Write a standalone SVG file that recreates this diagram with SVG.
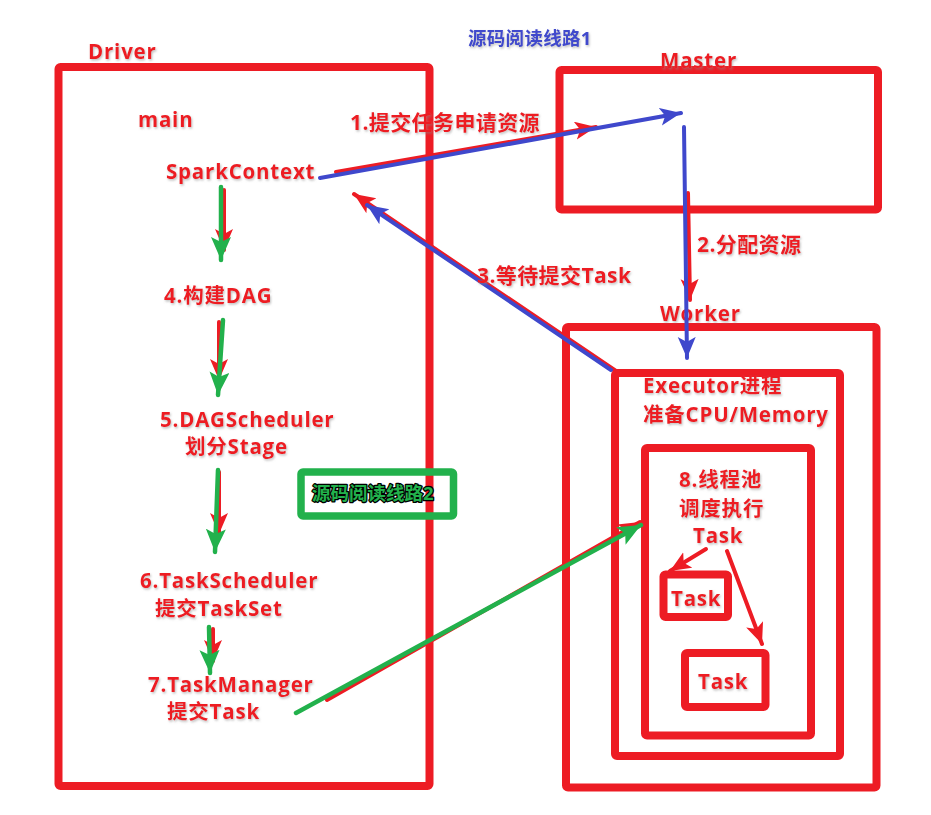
<svg xmlns="http://www.w3.org/2000/svg" width="931" height="815" viewBox="0 0 931 815">
<style>
.box{fill:none;stroke:#ed1c24;stroke-width:8;stroke-linejoin:round}
.t{font-family:"Open Sans","Noto Sans CJK SC",sans-serif;font-weight:700;fill:#ed1c24;filter:url(#sh);letter-spacing:0.8px}
.f20{font-size:20.5px}
.f21{font-size:21px;letter-spacing:0.4px}
.blue{stroke:#3f48cc;stroke-width:4;fill:none;stroke-linecap:round}
.red{stroke:#ed1c24;stroke-width:4;fill:none;stroke-linecap:round}
.green{stroke:#22b14c;stroke-width:4.5;fill:none;stroke-linecap:round}
</style>
<defs>
<filter id="sh" x="-10%" y="-20%" width="120%" height="150%">
<feDropShadow dx="1" dy="1.5" stdDeviation="0.8" flood-color="#888" flood-opacity="0.55"/>
</filter>
<marker id="hb" markerUnits="userSpaceOnUse" markerWidth="24" markerHeight="20" refX="21" refY="9" orient="auto">
<path d="M0,0 L21,9 L0,18 L5,9 z" fill="#3f48cc"/>
</marker>
<marker id="hr" markerUnits="userSpaceOnUse" markerWidth="24" markerHeight="20" refX="21" refY="9" orient="auto">
<path d="M0,0 L21,9 L0,18 L5,9 z" fill="#ed1c24"/>
</marker>
<marker id="hg" markerUnits="userSpaceOnUse" markerWidth="26" markerHeight="22" refX="23" refY="10" orient="auto">
<path d="M0,0 L23,10 L0,20 L5,10 z" fill="#22b14c"/>
</marker>
</defs>
<rect width="931" height="815" fill="#fff"/>

<g id="driver">
<rect class="box" x="58.5" y="67" width="371" height="719" rx="2"/>
<text class="t f20" x="88" y="59">Driver</text>
<text class="t f20" x="138" y="127">main</text>
</g>
<g id="sparkcontext"><text class="t f20" x="166" y="179">SparkContext</text></g>
<g id="dag"><text class="t f20" x="164" y="303">4.构建DAG</text></g>
<g id="dagscheduler">
<text class="t f20" x="160" y="427">5.DAGScheduler</text>
<text class="t f20" x="185" y="454">划分Stage</text>
</g>
<g id="taskscheduler">
<text class="t f20" x="140" y="588">6.TaskScheduler</text>
<text class="t f20" x="155" y="616">提交TaskSet</text>
</g>
<g id="taskmanager">
<text class="t f20" x="148" y="692">7.TaskManager</text>
<text class="t f20" x="167" y="719">提交Task</text>
</g>
<g id="route1"><text class="t" x="468" y="45" style="font-size:18.5px;fill:#3f48cc;letter-spacing:0.3px">源码阅读线路1</text></g>
<g id="route2">
<rect x="301" y="472" width="152.5" height="44" rx="2" fill="none" stroke="#22b14c" stroke-width="7.5"/>
<text x="312" y="500" style="font-family:'Open Sans','Noto Sans CJK SC',sans-serif;font-weight:700;font-size:18.5px;fill:#22b14c;stroke:#000;stroke-width:2.5;paint-order:stroke;stroke-linejoin:round">源码阅读线路2</text>
</g>
<g id="master">
<rect class="box" x="559.5" y="70" width="318.5" height="139.5" rx="2"/>
<text class="t f20" x="660" y="68">Master</text>
</g>
<g id="worker">
<rect class="box" x="566" y="327" width="310.5" height="460.5" rx="2"/>
<text class="t f20" x="660" y="321">Worker</text>
</g>
<g id="executor">
<rect class="box" x="615" y="373" width="225" height="383" rx="2"/>
<text class="t f20" x="643" y="393">Executor进程</text>
<text class="t f20" x="643" y="422">准备CPU/Memory</text>
</g>
<g id="threadpool">
<rect class="box" x="645" y="448" width="166" height="287.5" rx="2"/>
<text class="t f20" x="679" y="487">8.线程池</text>
<text class="t f20" x="679" y="516">调度执行</text>
<text class="t f20" x="693" y="543">Task</text>
</g>
<g id="task1">
<rect class="box" x="663.5" y="574.5" width="64.5" height="42.5" rx="2"/>
<text class="t f20" x="671" y="606">Task</text>
</g>
<g id="task2">
<rect class="box" x="685" y="653" width="80.5" height="54" rx="2"/>
<text class="t f20" x="698" y="689">Task</text>
</g>

<g id="connectors">
<line class="red" x1="336" y1="172" x2="596" y2="127" marker-end="url(#hr)"/>
<line class="blue" x1="320" y1="178" x2="681" y2="113" marker-end="url(#hb)"/>
<text class="t f21" x="350" y="130">1.提交任务申请资源</text>
<line class="red" x1="688" y1="193" x2="690" y2="300" marker-end="url(#hr)"/>
<line class="blue" x1="684" y1="127" x2="687" y2="358" marker-end="url(#hb)"/>
<text class="t f21" x="697" y="252">2.分配资源</text>
<line class="red" x1="616" y1="371" x2="354" y2="194" marker-end="url(#hr)"/>
<line class="blue" x1="611" y1="370" x2="367" y2="205" marker-end="url(#hb)"/>
<text class="t f21" x="477" y="283">3.等待提交Task</text>
<line class="red" x1="224" y1="190" x2="224" y2="250" marker-end="url(#hr)"/>
<line class="green" x1="221" y1="187" x2="221" y2="260" marker-end="url(#hg)"/>
<line class="red" x1="219" y1="322" x2="219" y2="380" marker-end="url(#hr)"/>
<line class="green" x1="223" y1="320" x2="218" y2="395" marker-end="url(#hg)"/>
<line class="red" x1="219" y1="472" x2="219" y2="534" marker-end="url(#hr)"/>
<line class="green" x1="218" y1="470" x2="215" y2="552" marker-end="url(#hg)"/>
<line class="red" x1="213" y1="629" x2="213" y2="661" marker-end="url(#hr)"/>
<line class="green" x1="209" y1="627" x2="210" y2="673" marker-end="url(#hg)"/>
<line class="red" x1="327" y1="700" x2="640" y2="522" marker-end="url(#hr)"/>
<line class="green" x1="296" y1="713" x2="641" y2="525" marker-end="url(#hg)"/>
<line class="red" x1="706" y1="549" x2="670" y2="571" marker-end="url(#hr)"/>
<line class="red" x1="727" y1="551" x2="762" y2="644" marker-end="url(#hr)"/>
</g>
</svg>
